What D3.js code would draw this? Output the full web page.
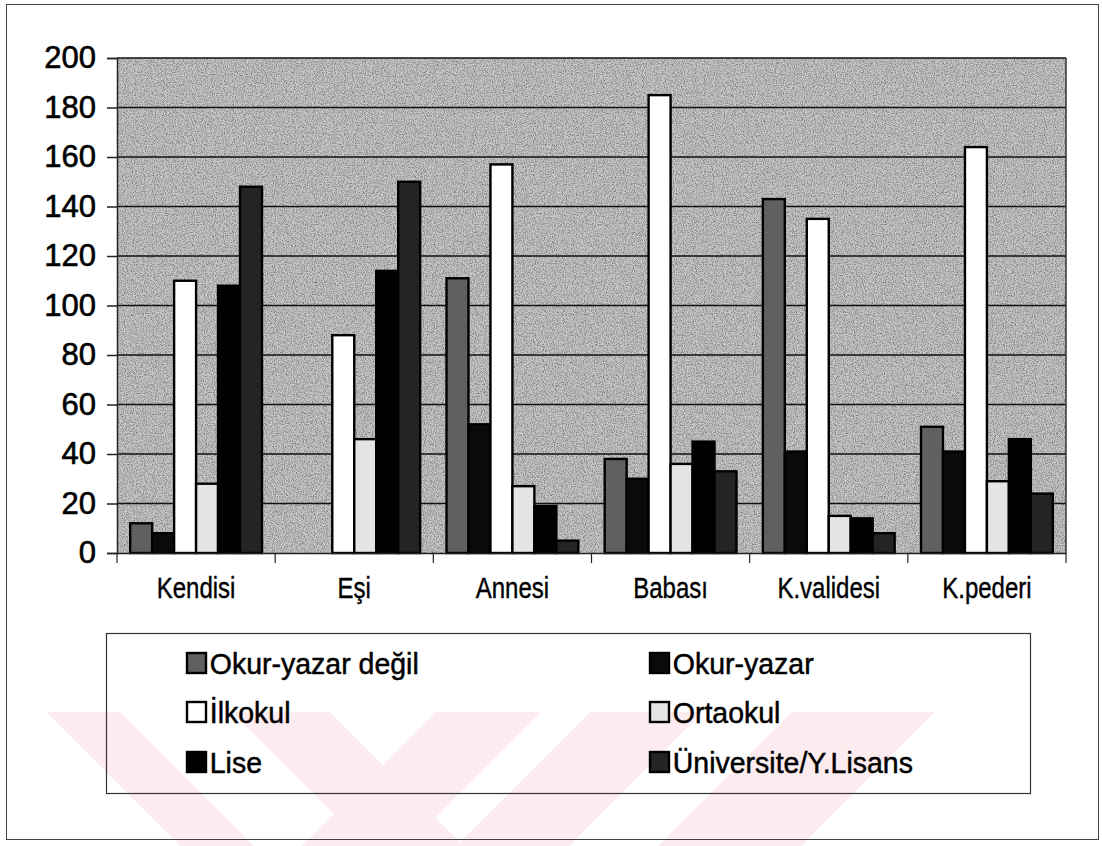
<!DOCTYPE html>
<html>
<head>
<meta charset="utf-8">
<script src="https://cdn.jsdelivr.net/npm/d3@7"></script>
<style>
  body { margin: 0; background: #fff; }
  svg { display: block; }
  text { font-family: "Liberation Sans", Arial, sans-serif; fill: #000; }
</style>
</head>
<body>
<div id="chart"></div>
<script>
// data
var categories = ["Kendisi", "Eşi", "Annesi", "Babası", "K.validesi", "K.pederi"];
var seriesNames = ["Okur-yazar değil", "Okur-yazar", "İlkokul", "Ortaokul", "Lise", "Üniversite/Y.Lisans"];
var okurYazarDegil = [12, 0, 111, 38, 143, 51];
var okurYazar = [8, 0, 52, 30, 41, 41];
var ilkokul = [110, 88, 157, 185, 135, 164];
var ortaokul = [28, 46, 27, 36, 15, 29];
var lise = [108, 114, 19, 45, 14, 46];
var universite = [148, 150, 5, 33, 8, 24];
var yTicks = [0, 20, 40, 60, 80, 100, 120, 140, 160, 180, 200];

var seriesValues = [okurYazarDegil, okurYazar, ilkokul, ortaokul, lise, universite];
var fills = ["#606060", "#0a0a0a", "#ffffff", "#e4e4e4", "#000000", "#242424"];

var width = 1102, height = 846;
var plot = {left: 117, right: 1066, top: 58, bottom: 553};

var svg = d3.select("#chart").append("svg")
  .attr("width", width)
  .attr("height", height);

var defs = svg.append("defs");
var grain = defs.append("filter").attr("id", "grain")
  .attr("x", 0).attr("y", 0).attr("width", "100%").attr("height", "100%");
grain.append("feTurbulence")
  .attr("type", "fractalNoise").attr("baseFrequency", 0.9)
  .attr("numOctaves", 2).attr("seed", 4);
grain.append("feColorMatrix")
  .attr("type", "matrix")
  .attr("values", "0 0 0 0 0  0 0 0 0 0  0 0 0 0 0  2.6 0 0 0 -1.05");

// pink watermark behind the legend (top edge x-ranges, slant per px)
var wmTop = 712, wmBottom = 846;
var wm = [
  {x0: 46, x1: 120, slant: 1.0},
  {x0: 232, x1: 330, slant: 1.0},
  {x0: 436, x1: 541, slant: -1.0},
  {x0: 590, x1: 703, slant: -1.0},
  {x0: 792, x1: 935, slant: -1.0}
];
var hWm = wmBottom - wmTop;
svg.append("g").selectAll("polygon")
  .data(wm)
  .enter().append("polygon")
  .attr("points", function(d) {
    var s = d.slant * hWm;
    return [[d.x0, wmTop], [d.x1, wmTop], [d.x1 + s, wmBottom], [d.x0 + s, wmBottom]].join(" ");
  })
  .attr("fill", "#fdecef");

// outer frame
svg.append("rect")
  .attr("x", 6.5).attr("y", 4.5)
  .attr("width", 1092).attr("height", 835)
  .attr("fill", "none")
  .attr("stroke", "#444")
  .attr("stroke-width", 1);

var x0 = d3.scaleBand()
  .domain(categories)
  .range([plot.left, plot.right])
  .paddingInner(0)
  .paddingOuter(0);

var x1 = d3.scaleBand()
  .domain(seriesNames)
  .range([0, x0.bandwidth()])
  .paddingInner(0)
  .paddingOuter(0.6);

var y = d3.scaleLinear()
  .domain([0, 200])
  .range([plot.bottom, plot.top]);

// plot background
svg.append("rect")
  .attr("x", plot.left).attr("y", plot.top)
  .attr("width", plot.right - plot.left)
  .attr("height", plot.bottom - plot.top)
  .attr("fill", "#c8c8c8");
svg.append("rect")
  .attr("x", plot.left).attr("y", plot.top)
  .attr("width", plot.right - plot.left)
  .attr("height", plot.bottom - plot.top)
  .attr("fill", "#000")
  .attr("filter", "url(#grain)")
  .attr("opacity", 0.38);

// gridlines
svg.append("g")
  .selectAll("line")
  .data(yTicks.slice(1))
  .enter().append("line")
  .attr("x1", plot.left).attr("x2", plot.right)
  .attr("y1", function(d) { return y(d); })
  .attr("y2", function(d) { return y(d); })
  .attr("stroke", "#111")
  .attr("stroke-width", 1.6);

// right edge of plot
svg.append("line")
  .attr("x1", plot.right).attr("x2", plot.right)
  .attr("y1", plot.top).attr("y2", plot.bottom)
  .attr("stroke", "#333").attr("stroke-width", 1.5);

// bars
var rows = [];
categories.forEach(function(c, i) {
  seriesNames.forEach(function(s, j) {
    rows.push({cat: c, series: s, value: seriesValues[j][i], k: j});
  });
});

svg.append("g")
  .selectAll("rect")
  .data(rows.filter(function(d) { return d.value > 0; }))
  .enter().append("rect")
  .attr("x", function(d) { return x0(d.cat) + x1(d.series); })
  .attr("y", function(d) { return y(d.value); })
  .attr("width", x1.bandwidth())
  .attr("height", function(d) { return y(0) - y(d.value); })
  .attr("fill", function(d) { return fills[d.k]; })
  .attr("stroke", "#000")
  .attr("stroke-width", 2.4);

// axes
var yAxis = d3.axisLeft(y)
  .tickValues(yTicks)
  .tickSize(10)
  .tickPadding(11);

var gy = svg.append("g")
  .attr("transform", "translate(" + plot.left + ",0)")
  .call(yAxis);
gy.selectAll("text")
  .style("font-size", "31px")
  .attr("stroke", "#000")
  .attr("stroke-width", 0.6);
gy.selectAll("line, path").attr("stroke", "#222").attr("stroke-width", 1.5);

var xAxis = d3.axisBottom(x0)
  .tickSize(0)
  .tickPadding(24);

var gx = svg.append("g")
  .attr("transform", "translate(0," + plot.bottom + ")")
  .call(xAxis);
gx.selectAll("text")
  .style("font-size", "30px")
  .attr("transform", "scale(0.8,1)")
  .attr("stroke", "#000")
  .attr("stroke-width", 0.4);
gx.select(".domain").attr("stroke", "#222").attr("stroke-width", 1.5);

// category boundary ticks
var bounds = categories.map(function(c) { return x0(c); }).concat([plot.right]);
gx.selectAll(".sep")
  .data(bounds)
  .enter().append("line")
  .attr("class", "sep")
  .attr("x1", function(d) { return d; }).attr("x2", function(d) { return d; })
  .attr("y1", 0).attr("y2", 10)
  .attr("stroke", "#222").attr("stroke-width", 1.2);

// legend
var legend = {left: 106, top: 633, width: 924, height: 160};
svg.append("rect")
  .attr("x", legend.left + 0.5).attr("y", legend.top + 0.5)
  .attr("width", legend.width).attr("height", legend.height)
  .attr("fill", "none")
  .attr("stroke", "#333")
  .attr("stroke-width", 1.2);

var colX = [186, 649];
var rowY = [663, 712, 762];

var li = svg.append("g").selectAll("g")
  .data(seriesNames)
  .enter().append("g")
  .attr("transform", function(d, i) {
    return "translate(" + colX[i % 2] + "," + rowY[Math.floor(i / 2)] + ")";
  });

li.append("rect")
  .attr("x", 1).attr("y", -10)
  .attr("width", 19).attr("height", 20)
  .attr("fill", function(d, i) { return fills[i]; })
  .attr("stroke", "#000")
  .attr("stroke-width", 2.4);

li.append("text")
  .attr("x", 25)
  .attr("dy", "0.36em")
  .style("font-size", "30px")
  .attr("transform", "scale(0.95,1)")
  .attr("stroke", "#000")
  .attr("stroke-width", 0.5)
  .text(function(d) { return d; });
</script>
</body>
</html>
